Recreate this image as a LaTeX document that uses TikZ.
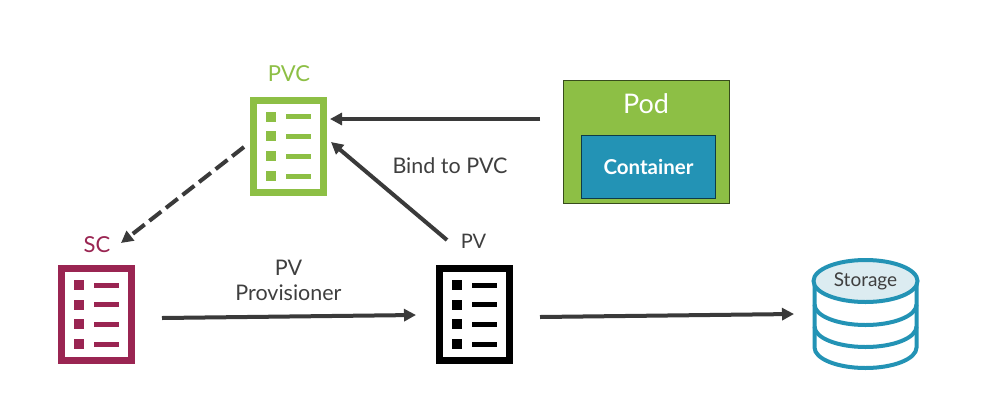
\documentclass[tikz,border=0pt]{standalone}
\usepackage{fontspec}
\setmainfont{Lato}
\usetikzlibrary{arrows.meta,shapes.geometric}
\definecolor{pvcgreen}{HTML}{8DBF45}
\definecolor{sccrim}{HTML}{9A2552}
\definecolor{contblue}{HTML}{2393B5}
\definecolor{storfill}{HTML}{DCECF1}
\definecolor{arrowgray}{HTML}{3A3A3A}
\definecolor{labelgray}{HTML}{3F3F3F}
\tikzset{
  x=1pt,y=-1pt,
  docbox/.style={draw=#1,line width=7pt,fill=white,minimum width=69.5pt,minimum height=92pt,inner sep=0pt,outer sep=0pt,rectangle},
  conn/.style={draw=arrowgray,line width=4pt,-{Triangle[length=12pt,width=12pt]}},
  lab/.style={text=labelgray,inner sep=0pt,align=center,font=\fontsize{21.5}{25}\selectfont}
}
\newcommand{\docicon}[4]{% name, left, top, colour
  \node[docbox=#4] (#1) at (#2+38.3,#3+49.5) {};
  \foreach \ry in {20,39.7,59.3,79.3}{
    \fill[#4] (#2+15.7,#3+\ry-5) rectangle (#2+25.7,#3+\ry+5);
    \fill[#4] (#2+35.3,#3+\ry-2.5) rectangle (#2+60.3,#3+\ry+2.5);
  }
}
\begin{document}
\begin{tikzpicture}
\useasboundingbox[fill=white] (0,0) rectangle (996,400);
\docicon{pvc}{250.2}{96.7}{pvcgreen}
\docicon{sc}{58.2}{265}{sccrim}
\docicon{pv}{436.2}{265}{black}
\node[lab,text=pvcgreen,font=\fontsize{22}{25}\selectfont] (pvclabel) at (289,74) {PVC};
\node[lab,text=sccrim,font=\fontsize{22}{25}\selectfont] (sclabel) at (97,245) {SC};
\node[lab,font=\fontsize{20}{25}\selectfont] (pvlabel) at (473.5,241) {PV};
\node[rectangle,draw=black!60!pvcgreen,line width=1pt,fill=pvcgreen,minimum width=166pt,minimum height=123pt,inner sep=0pt] (pod) at (646.7,142) {};
\node[lab,text=white,font=\fontsize{27}{30}\selectfont] (podlabel) at (646,103.5) {Pod};
\node[rectangle,draw=black!60!contblue,line width=1pt,fill=contblue,minimum width=134pt,minimum height=63pt,inner sep=0pt,text=white,font=\bfseries\fontsize{20.5}{24}\selectfont] (container) at (648.5,167) {Container};
\node[lab] (bind) at (450,166) {Bind to PVC};
\node[lab] (prov) at (288.5,280.5) {PV\\Provisioner};
% storage
\begin{scope}[draw=contblue,line width=4pt]
\draw[fill=white] (814.5,281) -- (814.5,347.5) arc[start angle=180,end angle=360,x radius=51,y radius=-20.5] -- (916.5,281);
\draw (814.5,304.5) arc[start angle=180,end angle=360,x radius=51,y radius=-20.5];
\draw (814.5,326.5) arc[start angle=180,end angle=360,x radius=51,y radius=-20.5];
\end{scope}
\node[ellipse,draw=contblue,line width=4pt,fill=storfill,minimum width=104pt,minimum height=42pt,inner sep=0pt,text=labelgray,font=\fontsize{19}{22}\selectfont] (storage) at (865.5,281) {\raisebox{-1.5pt}{Storage}};
% connectors
\coordinate (podout) at (540,119);
\coordinate (pvcin) at (330,119);
\coordinate (pvout) at (447,240);
\coordinate (pvcin2) at (331,142);
\coordinate (pvcout) at (244,147);
\coordinate (scin) at (121,243);
\coordinate (scout) at (162,318);
\coordinate (pvin) at (416,315);
\coordinate (pvout2) at (540,317);
\coordinate (storin) at (794,314);
\draw[conn] (podout) -- (pvcin);
\draw[conn] (pvout) -- (pvcin2);
\draw[conn,dash pattern=on 15pt off 6pt] (pvcout) -- (scin);
\draw[conn] (scout) -- (pvin);
\draw[conn] (pvout2) -- (storin);
\end{tikzpicture}
\end{document}
